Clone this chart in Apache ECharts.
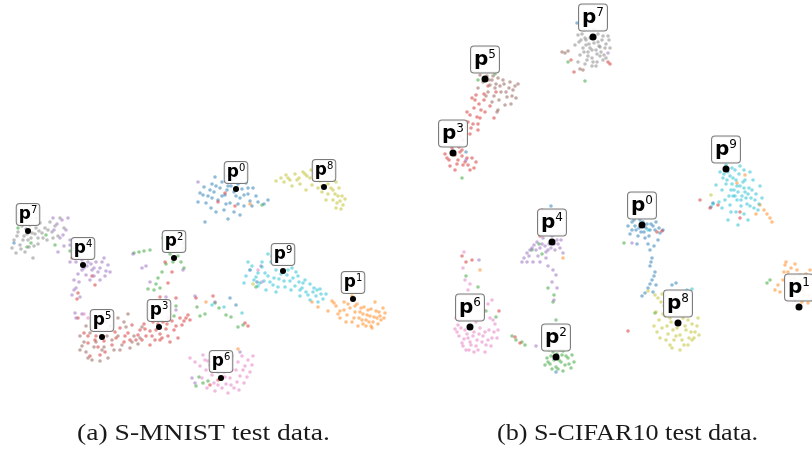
<!DOCTYPE html>
<html>
<head>
<meta charset="utf-8">
<script src="https://cdn.jsdelivr.net/npm/echarts@6/dist/echarts.min.js"></script>
<style>
  html, body { margin: 0; padding: 0; background: #fff; }
  #chart { width: 812px; height: 450px; }
</style>
</head>
<body>
<div id="chart"></div>
<script>
// Class palette (tab10), index = digit / class id
const classColors = ['#1f77b4', '#ff7f0e', '#2ca02c', '#d62728', '#9467bd',
                     '#8c564b', '#e377c2', '#7f7f7f', '#bcbd22', '#17becf'];

// ---- S-MNIST embedding (panel a) ----
const mnist0 = [[200,193],[204,187],[208,196],[212,184],[214,192],[218,200],[220,188],[222,182],[225,195],[228,186],[230,203],[232,180],[234,192],[238,184],[240,198],[242,189],[244,206],[246,183],[248,194],[250,201],[206,203],[211,208],[216,212],[224,210],[234,212],[240,215],[198,202],[205,222],[228,219],[253,188],[256,196],[226,176],[236,178],[215,177],[230,298],[236,305],[14,243],[257,282],
  [210,190],[216,186],[222,196],[227,190],[231,186],[236,196],[244,195],[238,204],[226,204],[212,198],[203,195],[248,188],[252,206],[258,202],[264,204],[268,200]];
const mnist1 = [[332,301],[336,306],[340,311],[344,302],[347,315],[350,308],[354,318],[357,304],[360,312],[362,320],[364,307],[367,315],[369,322],[371,309],[374,317],[376,311],[378,324],[380,316],[383,308],[385,313],[358,326],[366,326],[372,328],[340,318],[346,322],[328,311],[312,302],[318,307],[352,296],[375,302],[250,204],[206,302],[238,349],
  [355,312],[359,318],[363,314],[366,320],[370,316],[373,322],[377,318],[381,320],[384,318],[361,308],[368,310],[352,322],[344,310],[338,314],[334,303],[379,312],[371,326],[363,324],[355,306],[348,304]];
const mnist2 = [[134,253],[139,252],[144,251],[150,250],[167,248],[170,254],[173,262],[176,246],[178,256],[181,262],[184,268],[166,264],[162,272],[158,278],[156,284],[154,290],[160,288],[148,289],[163,238],[170,232],[183,248],[197,307],[205,314],[200,316],[215,303],[219,308],[226,315],[231,317],[238,327],[243,325],[18,228],[27,247],[31,243],[46,235],[55,245],[70,251],[199,377],[203,383],[208,381],[212,371],[196,386],[174,316],[176,306],[256,287],[262,205]];
const mnist3 = [[78,318],[84,333],[88,343],[92,328],[96,336],[98,347],[104,341],[108,330],[112,345],[116,338],[120,328],[124,342],[128,333],[132,325],[136,340],[140,330],[144,324],[146,336],[150,331],[153,322],[156,330],[160,334],[163,322],[166,329],[168,336],[172,321],[176,326],[180,318],[184,321],[188,315],[160,340],[170,342],[178,338],[150,345],[90,356],[100,355],[92,276],[95,285],[78,293],[77,299],[72,258],[165,262],[172,272],[168,283],[176,298],[184,243],[160,297],[213,296],[248,326],[245,323],[196,298],[210,385],[218,380],[225,193],[218,202],[235,206],
  [130,340],[138,335],[145,329],[152,336],[158,324],[162,338],[167,324],[174,330],[182,325],[186,318],[190,320],[155,340],[142,340],[125,336],[115,332],[105,352],[95,340],[88,336],[100,330],[168,318]];
const mnist4 = [[53,218],[57,224],[62,220],[66,230],[68,218],[60,238],[54,230],[70,240],[73,249],[58,252],[64,246],[76,262],[80,258],[84,268],[88,262],[92,270],[96,262],[100,268],[104,258],[106,271],[108,265],[78,274],[86,275],[90,280],[74,280],[76,288],[72,295],[80,297],[100,280],[110,272],[82,260],[94,276],[70,262],[133,254],[142,268],[146,266],[150,282],[183,270],[195,296],[215,302],[240,352],[192,378],[195,383],[176,310],[166,297],[75,313],[76,318],[82,314],[250,270],[261,266],[198,182],
  [82,270],[87,266],[91,264],[98,272],[102,262],[105,276],[94,268],[79,282],[74,290],[70,245],[63,235]];
const mnist5 = [[80,336],[84,342],[86,326],[90,333],[94,347],[98,326],[104,347],[107,336],[110,326],[114,350],[118,336],[122,345],[126,327],[130,348],[134,336],[138,344],[142,327],[110,315],[118,318],[128,314],[86,352],[92,360],[100,361],[108,358],[80,350],
  [96,342],[102,350],[112,340],[120,350],[132,342],[140,338],[82,346],[88,358],[106,322],[124,322]];
const mnist6 = [[190,358],[195,362],[200,366],[203,355],[206,370],[208,361],[212,375],[214,383],[216,366],[219,360],[222,388],[224,372],[226,384],[228,364],[230,378],[232,356],[234,388],[236,370],[238,362],[240,376],[242,356],[245,366],[248,360],[250,372],[253,356],[207,388],[215,391],[228,393],[202,378],[244,383],[84,314],[88,318],[258,270],[262,282],[171,247],
  [210,365],[218,372],[225,377],[232,370],[237,382],[243,370],[247,377],[252,365],[205,360],[213,356],[220,366],[231,385],[239,390],[226,360],[218,385]];
const mnist7 = [[14,240],[18,232],[20,245],[22,226],[24,236],[26,229],[28,240],[30,225],[32,233],[34,246],[36,228],[38,238],[40,223],[42,233],[45,228],[47,240],[50,222],[52,232],[55,226],[58,236],[16,253],[25,252],[33,258],[12,248],[20,222],[60,218],[64,228],[36,218],
  [17,236],[23,240],[27,234],[31,238],[35,234],[39,231],[43,238],[48,230],[53,238],[29,247],[21,249],[38,244]];
const mnist8 = [[276,181],[281,178],[286,175],[290,180],[295,174],[299,178],[303,172],[307,176],[311,170],[316,176],[320,181],[325,178],[328,184],[332,176],[336,182],[322,192],[318,188],[312,185],[306,190],[328,194],[333,190],[338,196],[340,201],[343,205],[337,203],[341,209],[345,199],[300,184],[292,186],[330,170],[253,284],
  [284,182],[297,180],[305,174],[314,180],[318,174],[322,186],[331,188],[335,194],[339,188],[342,196],[326,200],[336,208],[333,200],[310,178],[288,178]];
const mnist9 = [[246,276],[250,270],[254,280],[258,273],[262,267],[264,281],[268,276],[271,262],[273,285],[276,270],[279,279],[282,264],[285,287],[287,275],[290,281],[292,268],[295,286],[298,276],[300,290],[303,283],[306,292],[258,286],[266,290],[276,292],[272,256],[268,254],[290,261],[310,284],[313,292],[316,296],[320,289],[323,299],[326,294],[318,302],[310,300],[248,262],[244,283],[224,307],[242,313],[212,305],
  [252,266],[256,277],[260,283],[265,273],[270,282],[274,278],[278,287],[281,274],[284,281],[288,270],[293,278],[296,272],[299,282],[302,288],[305,280],[262,262],[278,260],[285,258],[308,295],[314,288],[321,294],[317,290],[300,296],[291,290]];
const mnistPrototypes = [[236,189,'0'],[353,299,'1'],[174,258,'2'],[159,327,'3'],[83,265,'4'],[102,337,'5'],[221,378,'6'],[28,231,'7'],[324,187,'8'],[283,271,'9']];

// ---- S-CIFAR10 embedding (panel b) ----
const cifar0 = [[628,226],[632,222],[636,230],[640,220],[644,232],[647,224],[650,230],[653,226],[656,222],[660,233],[663,230],[638,236],[645,238],[634,220],[648,244],[650,250],[652,258],[650,266],[655,272],[652,280],[656,285],[653,292],[648,288],[642,296],[658,240],[630,234],[577,23],[466,152],[551,206],[711,207],[713,203],[672,285],[676,283],[665,296],[556,372],
  [635,226],[639,228],[643,222],[646,228],[651,224],[655,230],[659,228],[632,230],[641,232],[649,236],[654,246],[651,262],[654,276],[650,284],[645,293],[637,244]];
const cifar1 = [[785,265],[788,272],[791,268],[794,278],[797,285],[800,275],[803,290],[806,282],[809,295],[787,285],[792,295],[795,300],[802,302],[808,303],[783,280],[810,270],[778,285],[775,290],[780,292],[760,205],[764,210],[767,214],[770,218],[772,222],[756,214],[737,183],[745,175],[563,258],[480,270],
  [789,276],[793,284],[797,270],[801,280],[804,295],[808,288],[790,290],[786,262],[799,292],[806,274],[811,300],[795,264],[784,272]];
const cifar2 = [[547,358],[550,364],[553,352],[556,367],[559,360],[562,355],[565,365],[568,358],[571,368],[549,350],[560,350],[552,369],[574,362],[563,371],[545,365],[554,295],[553,302],[556,320],[548,288],[512,336],[516,340],[522,342],[525,345],[466,276],[486,311],[496,317],[478,287],[495,74],[478,80],[462,178],[655,313],[539,244],[542,254],[532,250],[624,243],[770,280],[767,283],[568,62],[585,81],
  [551,356],[554,360],[557,354],[561,362],[566,356],[569,364],[548,362],[558,369],[563,351],[572,355]];
const cifar3 = [[472,98],[476,95],[479,104],[474,108],[484,100],[490,106],[470,115],[477,117],[473,124],[480,118],[466,127],[470,134],[463,140],[468,122],[485,112],[478,130],[458,160],[462,156],[465,162],[468,165],[472,158],[450,166],[455,170],[474,168],[447,158],[459,147],[452,148],[460,136],[496,92],[488,86],[494,118],[700,200],[710,208],[718,205],[740,212],[740,218],[462,256],[466,262],[472,260],[657,232],[662,231],[546,215],[542,210],[540,236],[628,331],[515,337],[520,343],[499,311],[571,60],[574,72],[608,62],[610,64],
  [455,155],[460,152],[463,165],[467,158],[470,170],[449,160],[457,164],[476,162],[445,154],[462,150],[475,100],[481,110],[471,128],[467,112],[478,124],[484,94]];
const cifar4 = [[524,258],[527,253],[530,250],[534,245],[537,242],[540,248],[543,238],[546,252],[549,244],[552,236],[555,250],[558,244],[561,240],[563,253],[546,258],[540,262],[533,262],[556,225],[553,220],[557,211],[553,270],[556,275],[552,282],[557,288],[554,300],[548,266],[479,260],[536,346],[608,53],[466,160],[632,243],
  [529,256],[532,248],[536,250],[538,256],[542,244],[545,246],[548,250],[551,248],[554,244],[557,240],[560,248],[527,262],[522,262],[560,234]];
const cifar5 = [[480,75],[483,82],[487,76],[490,85],[492,80],[495,88],[498,78],[501,92],[504,84],[507,97],[510,82],[513,90],[516,98],[518,84],[498,110],[497,112],[486,96],[492,102],[478,88],[505,105],[562,52],[565,53],[568,51],[580,69],[583,70],
  [484,78],[489,80],[493,76],[496,84],[500,86],[503,80],[509,88],[512,96],[515,86],[506,92],[494,96],[488,92],[511,104],[499,100]];
const cifar6 = [[455,329],[459,336],[462,343],[465,330],[468,338],[471,345],[474,332],[477,340],[480,328],[483,336],[486,345],[489,330],[492,338],[495,324],[460,320],[476,322],[490,318],[484,310],[488,304],[492,300],[466,350],[478,350],[458,325],[498,330],[470,284],[465,280],[468,290],[463,268],[467,300],[461,310],[464,252],
  [457,332],[461,328],[464,339],[467,334],[470,342],[473,336],[476,346],[479,334],[482,342],[485,332],[488,340],[491,346],[494,332],[469,350],[474,352],[485,352],[463,346],[493,320],[497,338],[456,318]];
const cifar7 = [[578,35],[581,40],[584,30],[586,45],[588,52],[590,38],[592,58],[594,43],[596,50],[598,34],[600,47],[602,40],[604,55],[606,44],[608,36],[583,48],[587,60],[597,62],[600,56],[594,29],[590,48],[580,55],[603,60],[610,48],[575,45],[585,38],[598,42],[592,66],[578,62],
  [582,34],[586,40],[589,44],[592,50],[595,38],[597,54],[599,46],[601,52],[605,48],[588,56],[584,52],[593,62],[606,58],[579,42],[603,36],[585,64],[609,40],[596,66]];
const cifar8 = [[656,312],[659,320],[662,328],[665,316],[668,334],[671,322],[674,340],[677,328],[680,335],[683,318],[686,330],[689,338],[692,324],[695,332],[698,318],[670,345],[684,345],[660,338],[664,306],[654,326],[692,340],[658,298],[662,294],[648,291],[711,195],[655,295],
  [663,314],[667,326],[670,318],[673,330],[676,336],[679,322],[682,340],[685,326],[688,320],[691,332],[694,338],[697,326],[666,340],[672,348],[680,350],[688,345],[657,332],[699,335],[676,314],[671,306],[661,302]];
const cifar9 = [[720,172],[723,178],[726,184],[728,172],[731,190],[733,178],[735,196],[737,186],[739,174],[741,200],[743,182],[745,192],[747,204],[749,188],[751,198],[754,208],[756,194],[759,204],[762,198],[730,205],[736,212],[744,214],[722,190],[716,185],[740,166],[750,172],[760,186],[713,204],[719,202],[728,220],[738,225],[648,230],[687,290],[692,289],
  [724,174],[727,180],[730,176],[732,184],[734,190],[736,180],[738,192],[740,186],[742,196],[744,188],[746,198],[748,194],[750,206],[752,190],[755,200],[758,210],[737,200],[733,196],[741,206],[729,196],[725,200],[745,180],[753,180],[726,165],[732,168],[735,170],[744,170],[731,212],[748,220],[722,208]];
const cifarPrototypes = [[642,225,'0'],[799,307,'1'],[556,357,'2'],[453,153,'3'],[552,242,'4'],[485,79,'5'],[470,327,'6'],[593,37,'7'],[678,323,'8'],[726,169,'9']];

const captions = ['(a) S-MNIST test data.', '(b) S-CIFAR10 test data.'];

const mnistClasses = [mnist0, mnist1, mnist2, mnist3, mnist4, mnist5, mnist6, mnist7, mnist8, mnist9];
const cifarClasses = [cifar0, cifar1, cifar2, cifar3, cifar4, cifar5, cifar6, cifar7, cifar8, cifar9];

function pointSeries(points, cls, gi) {
  return {
    type: 'scatter',
    xAxisIndex: gi, yAxisIndex: gi,
    data: points,
    symbolSize: 3.6,
    silent: true,
    itemStyle: { color: classColors[cls], opacity: 0.5 },
    z: 2
  };
}

function protoSeries(protos, gi, big) {
  return {
    type: 'scatter',
    xAxisIndex: gi, yAxisIndex: gi,
    data: protos.map(p => ({ value: [p[0], p[1]], name: p[2] })),
    symbolSize: big ? 7 : 6,
    itemStyle: { color: '#000', opacity: 1 },
    z: 10,
    label: {
      show: true,
      position: 'top',
      distance: 3,
      formatter: d => '{p|p}{s|' + d.name + '}',
      backgroundColor: 'rgba(255,255,255,0.9)',
      borderColor: '#7a7a7a',
      borderWidth: 1,
      borderRadius: 3,
      padding: big ? [2, 3, 1, 3] : [1, 2, 1, 2],
      rich: {
        p: { fontFamily: 'DejaVu Sans', fontWeight: 'bold', fontSize: big ? 20 : 17,
             color: '#000', lineHeight: big ? 23 : 19 },
        s: { fontFamily: 'DejaVu Sans', fontSize: big ? 12 : 10, color: '#000',
             verticalAlign: 'top', lineHeight: big ? 23 : 19 }
      }
    }
  };
}

const series = [];
mnistClasses.forEach((pts, c) => series.push(pointSeries(pts, c, 0)));
cifarClasses.forEach((pts, c) => series.push(pointSeries(pts, c, 1)));
series.push(protoSeries(mnistPrototypes, 0, false));
series.push(protoSeries(cifarPrototypes, 1, true));

const hiddenAxis = { show: false, splitLine: { show: false } };

const chart = echarts.init(document.getElementById('chart'), null, { renderer: 'canvas' });
chart.setOption({
  animation: false,
  backgroundColor: '#fff',
  grid: [
    { left: 0, top: 0, width: 406, height: 410 },
    { left: 406, top: 0, width: 406, height: 410 }
  ],
  xAxis: [
    Object.assign({ type: 'value', gridIndex: 0, min: 0, max: 406 }, hiddenAxis),
    Object.assign({ type: 'value', gridIndex: 1, min: 406, max: 812 }, hiddenAxis)
  ],
  yAxis: [
    Object.assign({ type: 'value', gridIndex: 0, min: 0, max: 410, inverse: true }, hiddenAxis),
    Object.assign({ type: 'value', gridIndex: 1, min: 0, max: 410, inverse: true }, hiddenAxis)
  ],
  graphic: [
    { type: 'text', x: 77, y: 422, scaleX: 1.15,
      style: { text: captions[0], font: '24px "Liberation Serif"', fill: '#1a1a1a' } },
    { type: 'text', x: 497, y: 422, scaleX: 1.09,
      style: { text: captions[1], font: '24px "Liberation Serif"', fill: '#1a1a1a' } }
  ],
  series: series
});
</script>
</body>
</html>
